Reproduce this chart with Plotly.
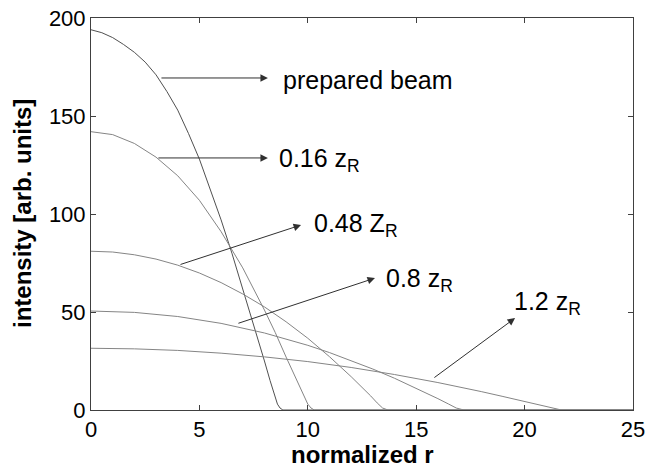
import plotly.graph_objects as go

# ---- data ----
r_prep = [0, 0.5, 1, 1.5, 2, 2.5, 3, 3.5, 4, 4.5, 5, 5.5, 6, 6.5, 7, 7.5, 8, 8.26, 8.45, 8.6, 8.72, 8.85, 25]
i_prep = [194, 192.5, 190, 186.5, 182.5, 177.5, 171, 162.5, 153, 141, 128, 112.5, 97, 80, 62, 44, 25, 15, 7.5, 3, 1, 0, 0]

r_016 = [0, 1, 2, 3, 4, 5, 6, 7, 8, 8.5, 9, 9.5, 9.8, 10.0, 10.15, 10.3, 25]
i_016 = [142, 140.5, 136, 129, 119.5, 107, 91, 72.5, 51, 39.5, 27, 15, 7.5, 3, 1, 0, 0]

r_048 = [0, 1, 2, 3, 4, 5, 6, 7, 8, 9, 10, 11, 12, 12.5, 12.9, 13.2, 13.45, 13.7, 25]
i_048 = [81, 80.6, 79.2, 77, 73.9, 69.9, 65, 59.2, 52.6, 45, 36.6, 27.2, 17, 11.7, 7.2, 3.6, 1, 0, 0]

r_08 = [0, 2, 4, 6, 8, 10, 11, 12, 13, 14, 15, 16, 16.5, 16.85, 17.2, 25]
i_08 = [50.5, 49.8, 47.7, 44.2, 39.3, 33, 29.3, 25.3, 20.9, 16.2, 11.2, 5.8, 3, 1, 0, 0]

r_12 = [0, 2, 4, 6, 8, 10, 12, 14, 16, 17, 18, 19, 20, 20.8, 21.3, 21.7, 25]
i_12 = [31.5, 31.2, 30.4, 29.0, 27.1, 24.7, 21.7, 18.1, 14.0, 11.8, 9.4, 6.9, 4.3, 2, 0.7, 0, 0]

labels = ["prepared beam", "0.16 z<sub>R</sub>", "0.48 Z<sub>R</sub>",
          "0.8 z<sub>R</sub>", "1.2 z<sub>R</sub>"]
# arrow tail (on curve), arrow head, label anchor
arrow_tail = [(3.18, 169.4), (3.04, 128.6), (4.06, 74.0), (6.73, 44.0), (15.77, 16.0)]
arrow_head = [(8.16, 169.4), (8.16, 128.6), (9.69, 94.4), (13.1, 67.3), (19.56, 46.9)]
label_pos = [(8.75, 168.5), (8.6, 127.5), (10.2, 94.5), (13.5, 66.5), (19.4, 54.5)]

x_ticks = [0, 5, 10, 15, 20, 25]
y_ticks = [0, 50, 100, 150, 200]

FONT = "Liberation Sans, Arial"

fig = go.Figure()
series = [(r_prep, i_prep, "#505050"), (r_016, i_016, "#858585"),
          (r_048, i_048, "#858585"), (r_08, i_08, "#858585"), (r_12, i_12, "#858585")]
for xs, ys, c in series:
    fig.add_trace(go.Scatter(x=xs, y=ys, mode="lines", line=dict(color=c, width=1),
                             showlegend=False, hoverinfo="skip", cliponaxis=False))

anns = []
for (tx, ty), (hx, hy), (lx, ly), lab in zip(arrow_tail, arrow_head, label_pos, labels):
    anns.append(dict(x=hx, y=hy, ax=tx, ay=ty, xref="x", yref="y", axref="x", ayref="y",
                     text="", showarrow=True, arrowhead=2, arrowsize=1.5, arrowwidth=1,
                     arrowcolor="#303030", standoff=0, startstandoff=0))
    anns.append(dict(x=lx, y=ly, xref="x", yref="y", text=lab, showarrow=False,
                     xanchor="left", yanchor="middle",
                     font=dict(family=FONT, size=25, color="black")))

# axis titles
anns.append(dict(x=0.5, y=0, xref="paper", yref="paper", text="<b>normalized r</b>",
                 showarrow=False, xanchor="center", yanchor="top", yshift=-29,
                 font=dict(family=FONT, size=24, color="black")))
anns.append(dict(x=0, y=0.5, xref="paper", yref="paper", text="<b>intensity [arb. units]</b>",
                 showarrow=False, xanchor="center", yanchor="middle", xshift=-69, textangle=-90,
                 font=dict(family=FONT, size=24, color="black")))

axis_common = dict(showgrid=False, zeroline=False, showline=True, linecolor="#404040", linewidth=1,
                   mirror="ticks", ticks="inside", ticklen=5, tickcolor="#404040", automargin=False,
                   ticklabeloverflow="allow",
                   tickfont=dict(family=FONT, size=22, color="black"))

fig.update_layout(
    width=645, height=466,
    margin=dict(l=91, r=12, t=18, b=56),
    paper_bgcolor="white", plot_bgcolor="white",
    xaxis=dict(range=[0, 25], tickvals=x_ticks, ticktext=[str(v) for v in x_ticks], **axis_common),
    yaxis=dict(range=[0, 200], tickvals=y_ticks, ticktext=[str(v) for v in y_ticks], **axis_common),
    annotations=anns,
)

fig.write_html("out.html", config={"displayModeBar": False},
               post_script="document.body.style.margin='0px';document.body.style.overflow='hidden';")
